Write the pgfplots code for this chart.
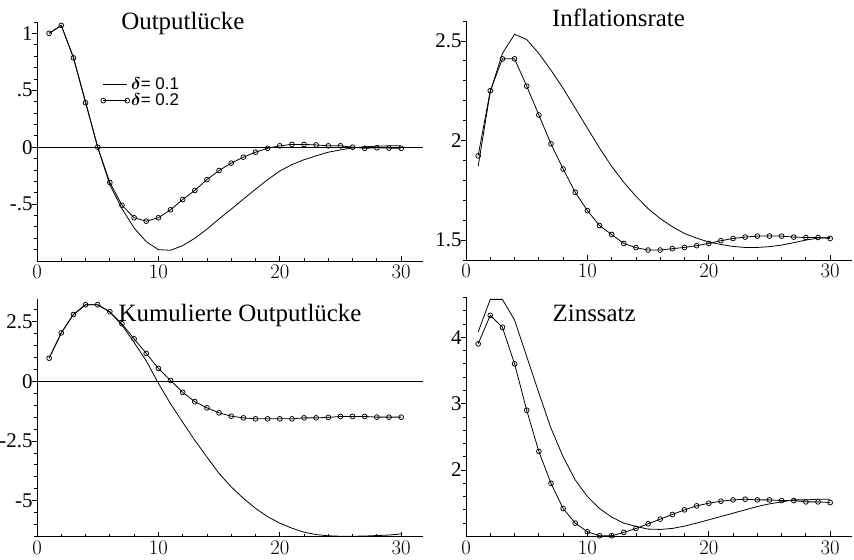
\documentclass[border=0pt]{standalone}
\usepackage{pgfplots}
\pgfplotsset{compat=1.18}
\usepackage{bm}
\usepackage{fontspec}
\setmainfont{Liberation Serif}
\newfontfamily\legfont{Liberation Sans}

\pgfplotstableread{
x a b
1 1.0 1.0
2 1.07 1.07
3 0.785 0.79
4 0.39 0.40
5 0.0 0.0
6 -0.31 -0.33
7 -0.51 -0.54
8 -0.62 -0.71
9 -0.65 -0.83
10 -0.62 -0.90
11 -0.55 -0.906
12 -0.46 -0.865
13 -0.38 -0.80
14 -0.285 -0.72
15 -0.205 -0.63
16 -0.14 -0.545
17 -0.088 -0.456
18 -0.044 -0.37
19 -0.01 -0.285
20 0.012 -0.21
21 0.024 -0.153
22 0.024 -0.11
23 0.02 -0.076
24 0.012 -0.044
25 0.012 -0.024
26 0.0 -0.006
27 -0.01 0.003
28 -0.005 0.009
29 -0.008 0.012
30 -0.01 0.012
}\gapdata

\pgfplotstableread{
x a b
1 1.923 1.87
2 2.25 2.245
3 2.41 2.437
4 2.41 2.533
5 2.273 2.507
6 2.128 2.437
7 1.983 2.353
8 1.857 2.262
9 1.74 2.162
10 1.648 2.062
11 1.573 1.962
12 1.528 1.87
13 1.483 1.79
14 1.462 1.72
15 1.45 1.658
16 1.45 1.608
17 1.457 1.567
18 1.463 1.533
19 1.472 1.51
20 1.483 1.49
21 1.497 1.478
22 1.508 1.468
23 1.515 1.463
24 1.52 1.463
25 1.52 1.467
26 1.52 1.475
27 1.515 1.487
28 1.513 1.5
29 1.513 1.51
30 1.508 1.513
}\infdata

\pgfplotstableread{
x a b
1 0.97 0.97
2 2.03 2.03
3 2.8 2.8
4 3.21 3.21
5 3.21 3.21
6 2.92 2.9
7 2.41 2.36
8 1.78 1.63
9 1.17 0.86
10 0.54 -0.08
11 0.04 -0.94
12 -0.46 -1.71
13 -0.85 -2.47
14 -1.11 -3.17
15 -1.32 -3.86
16 -1.46 -4.42
17 -1.53 -4.9
18 -1.57 -5.32
19 -1.57 -5.67
20 -1.57 -5.94
21 -1.57 -6.15
22 -1.53 -6.32
23 -1.53 -6.42
24 -1.51 -6.47
25 -1.47 -6.49
26 -1.47 -6.49
27 -1.47 -6.48
28 -1.5 -6.46
29 -1.5 -6.44
30 -1.5 -6.39
}\cumdata

\pgfplotstableread{
x a b
1 3.9 4.08
2 4.33 4.57
3 4.15 4.57
4 3.6 4.26
5 2.9 3.71
6 2.28 3.16
7 1.8 2.63
8 1.42 2.2
9 1.2 1.85
10 1.07 1.6
11 1.01 1.42
12 1.01 1.29
13 1.06 1.2
14 1.12 1.15
15 1.19 1.11
16 1.26 1.105
17 1.33 1.12
18 1.4 1.155
19 1.46 1.2
20 1.5 1.25
21 1.53 1.3
22 1.55 1.35
23 1.56 1.4
24 1.55 1.45
25 1.55 1.49
26 1.54 1.52
27 1.54 1.55
28 1.52 1.55
29 1.52 1.56
30 1.51 1.56
}\zinsdata

\pgfplotsset{
  panel/.style={
    scale only axis, width=386bp, height=239bp, anchor=south west,
    axis lines*=left, xmin=0, xmax=31.8,
    xtick={0,10,20,30}, minor xtick={2,4,...,30},
    tick align=inside,
    major tick length=5bp, minor tick length=3bp,
    major y tick style={xshift=-5bp},
    minor y tick style={xshift=-3bp},
    axis line style={line width=0.9bp},
    every tick/.style={black, line width=0.8bp},
    ticklabel style={font=\fontsize{21}{21}\selectfont},
    xticklabel style={yshift=-1bp},
    yticklabel style={xshift=-1bp},
    clip=false,
  },
}
\tikzset{
  sol/.style={black, line width=0.8bp},
  circ/.style={black, line width=0.8bp, mark=o, mark size=2.4bp,
    mark options={solid, fill=white, line width=0.75bp}},
  ttl/.style={font=\fontsize{25}{25}\selectfont, anchor=base},
}

\begin{document}
\begin{tikzpicture}
\useasboundingbox (0,0) rectangle (854bp,560bp);

% Panel 1
\begin{axis}[panel, at={(37bp,299bp)},
  ymin=-1.0, ymax=1.1, ytick={-0.5,0,0.5,1},
  yticklabels={{-.5},{0},{.5},{1}},
  minor ytick={-0.9,-0.8,...,1.05},
  legend style={draw=none, fill=none, at={(0.165,0.775)}, anchor=north west,
    font=\legfont\fontsize{17}{17}\selectfont, row sep=0pt,
    inner sep=0pt, nodes={inner sep=1.5bp}},
  legend cell align=left,
  legend image code/.code={\draw[#1] plot coordinates {(0bp,0bp) (24bp,0bp)};},
]
\addplot[sol, no marks] table[x=x, y=b] {\gapdata};
\addlegendentry{$\bm{\delta}$= 0.1}
\addplot[circ] table[x=x, y=a] {\gapdata};
\addlegendentry{$\bm{\delta}$= 0.2}
\addplot[black, line width=0.8bp, no marks, forget plot] coordinates {(0,0) (31.8,0)};
\node[ttl] at (rel axis cs:0.378,0.969) {Outputlücke};
\end{axis}

% Panel 2
\begin{axis}[panel, at={(466bp,300bp)},
  ymin=1.4, ymax=2.6, ytick={1.5,2,2.5},
  yticklabels={{1.5},{2},{2.5}},
  minor ytick={1.4,1.5,...,2.55},
]
\addplot[sol, no marks] table[x=x, y=b] {\infdata};
\addplot[circ] table[x=x, y=a] {\infdata};
\node[ttl] at (rel axis cs:0.395,0.975) {Inflationsrate};
\end{axis}

% Panel 3
\begin{axis}[panel, at={(37bp,23.5bp)}, height=237.5bp,
  ymin=-6.5, ymax=3.45, ytick={-5,-2.5,0,2.5},
  yticklabels={{-5},{-2.5},{0},{2.5}},
  minor ytick={-6.5,-6,...,3.2},
]
\addplot[sol, no marks] table[x=x, y=b] {\cumdata};
\addplot[circ] table[x=x, y=a] {\cumdata};
\addplot[black, line width=0.8bp, no marks] coordinates {(0,0) (31.8,0)};
\node[ttl] at (rel axis cs:0.526,0.905) {Kumulierte Outputlücke};
\end{axis}

% Panel 4
\begin{axis}[panel, at={(466bp,23.6bp)}, height=239bp,
  ymin=1.0, ymax=4.6, ytick={2,3,4},
  yticklabels={{2},{3},{4}},
  minor ytick={1.2,1.4,...,4.5},
]
\addplot[sol, no marks] table[x=x, y=b] {\zinsdata};
\addplot[circ] table[x=x, y=a] {\zinsdata};
\node[ttl] at (rel axis cs:0.332,0.899) {Zinssatz};
\end{axis}
\end{tikzpicture}
\end{document}
